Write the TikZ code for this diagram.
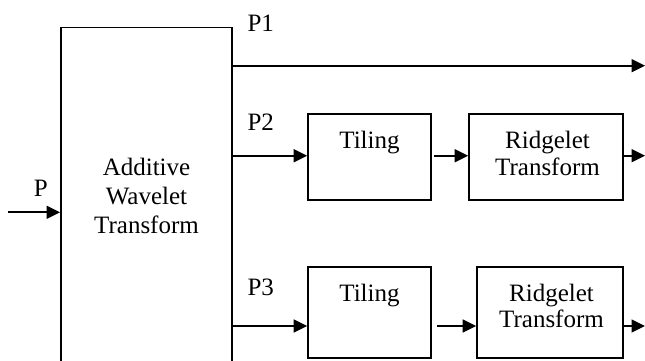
\documentclass[tikz,border=0pt]{standalone}
\usepackage{fontspec}
\setmainfont{Liberation Serif}
\usetikzlibrary{arrows.meta}
\begin{document}
\begin{tikzpicture}[x=1pt,y=-1pt,line width=1.7pt,
  box/.style={draw,inner sep=0pt},
  txt/.style={inner sep=0pt,align=center,font=\fontsize{25}{26.6}\selectfont},
  lbl/.style={inner sep=0pt,anchor=base west,font=\fontsize{25}{26.6}\selectfont},
  arr/.style={-{Triangle[length=13.5pt,width=13pt]}}]
\useasboundingbox (0,0) rectangle (645,360);
\clip (0,0) rectangle (645,360);
% blocks
\node[box,txt,minimum width=171pt,minimum height=337pt,font=\fontsize{25}{28.6}\selectfont] (awt) at (146.5,196) {Additive\\Wavelet\\Transform};
\node[box,minimum width=123pt,minimum height=86pt] (tile1) at (369.5,157) {};
\node[box,minimum width=154pt,minimum height=86pt] (ridge1) at (546,157) {};
\node[box,minimum width=123pt,minimum height=91.6pt] (tile2) at (369.5,312.5) {};
\node[box,minimum width=146pt,minimum height=91.6pt] (ridge2) at (550,312.5) {};
% block texts
\node[txt,anchor=north] (t1txt) at ([yshift=-17.2pt]tile1.north) {Tiling};
\node[txt,anchor=north] (r1txt) at ([xshift=1.5pt,yshift=-17.2pt]ridge1.north) {Ridgelet\\Transform};
\node[txt,anchor=north] (t2txt) at ([yshift=-17.2pt]tile2.north) {Tiling};
\node[txt,anchor=north] (r2txt) at ([xshift=1.5pt,yshift=-17.2pt]ridge2.north) {Ridgelet\\Transform};
% labels
\node[lbl] (lp) at (33,196.7) {P};
\node[lbl] (lp1) at (246.7,31.7) {P1};
\node[lbl] (lp2) at (246.7,130) {P2};
\node[lbl] (lp3) at (246.7,295) {P3};
% free ends
\coordinate (pin) at (8,212.3);
\coordinate (o1) at (645,65.7);
\coordinate (o2) at (645,155.7);
\coordinate (o3) at (645,326);
% connectors
\draw[arr] (pin) -- (pin -| awt.west);
\draw[arr] (o1 -| awt.east) -- (o1);
\draw[arr] (o2 -| awt.east) -- (o2 -| tile1.west);
\draw[arr,shorten <=2pt] (o2 -| tile1.east) -- (o2 -| ridge1.west);
\draw[arr] (o2 -| ridge1.east) -- (o2);
\draw[arr] (o3 -| awt.east) -- (o3 -| tile2.west);
\draw[arr,shorten <=5pt] (o3 -| tile2.east) -- (o3 -| ridge2.west);
\draw[arr] (o3 -| ridge2.east) -- (o3);
\end{tikzpicture}
\end{document}
